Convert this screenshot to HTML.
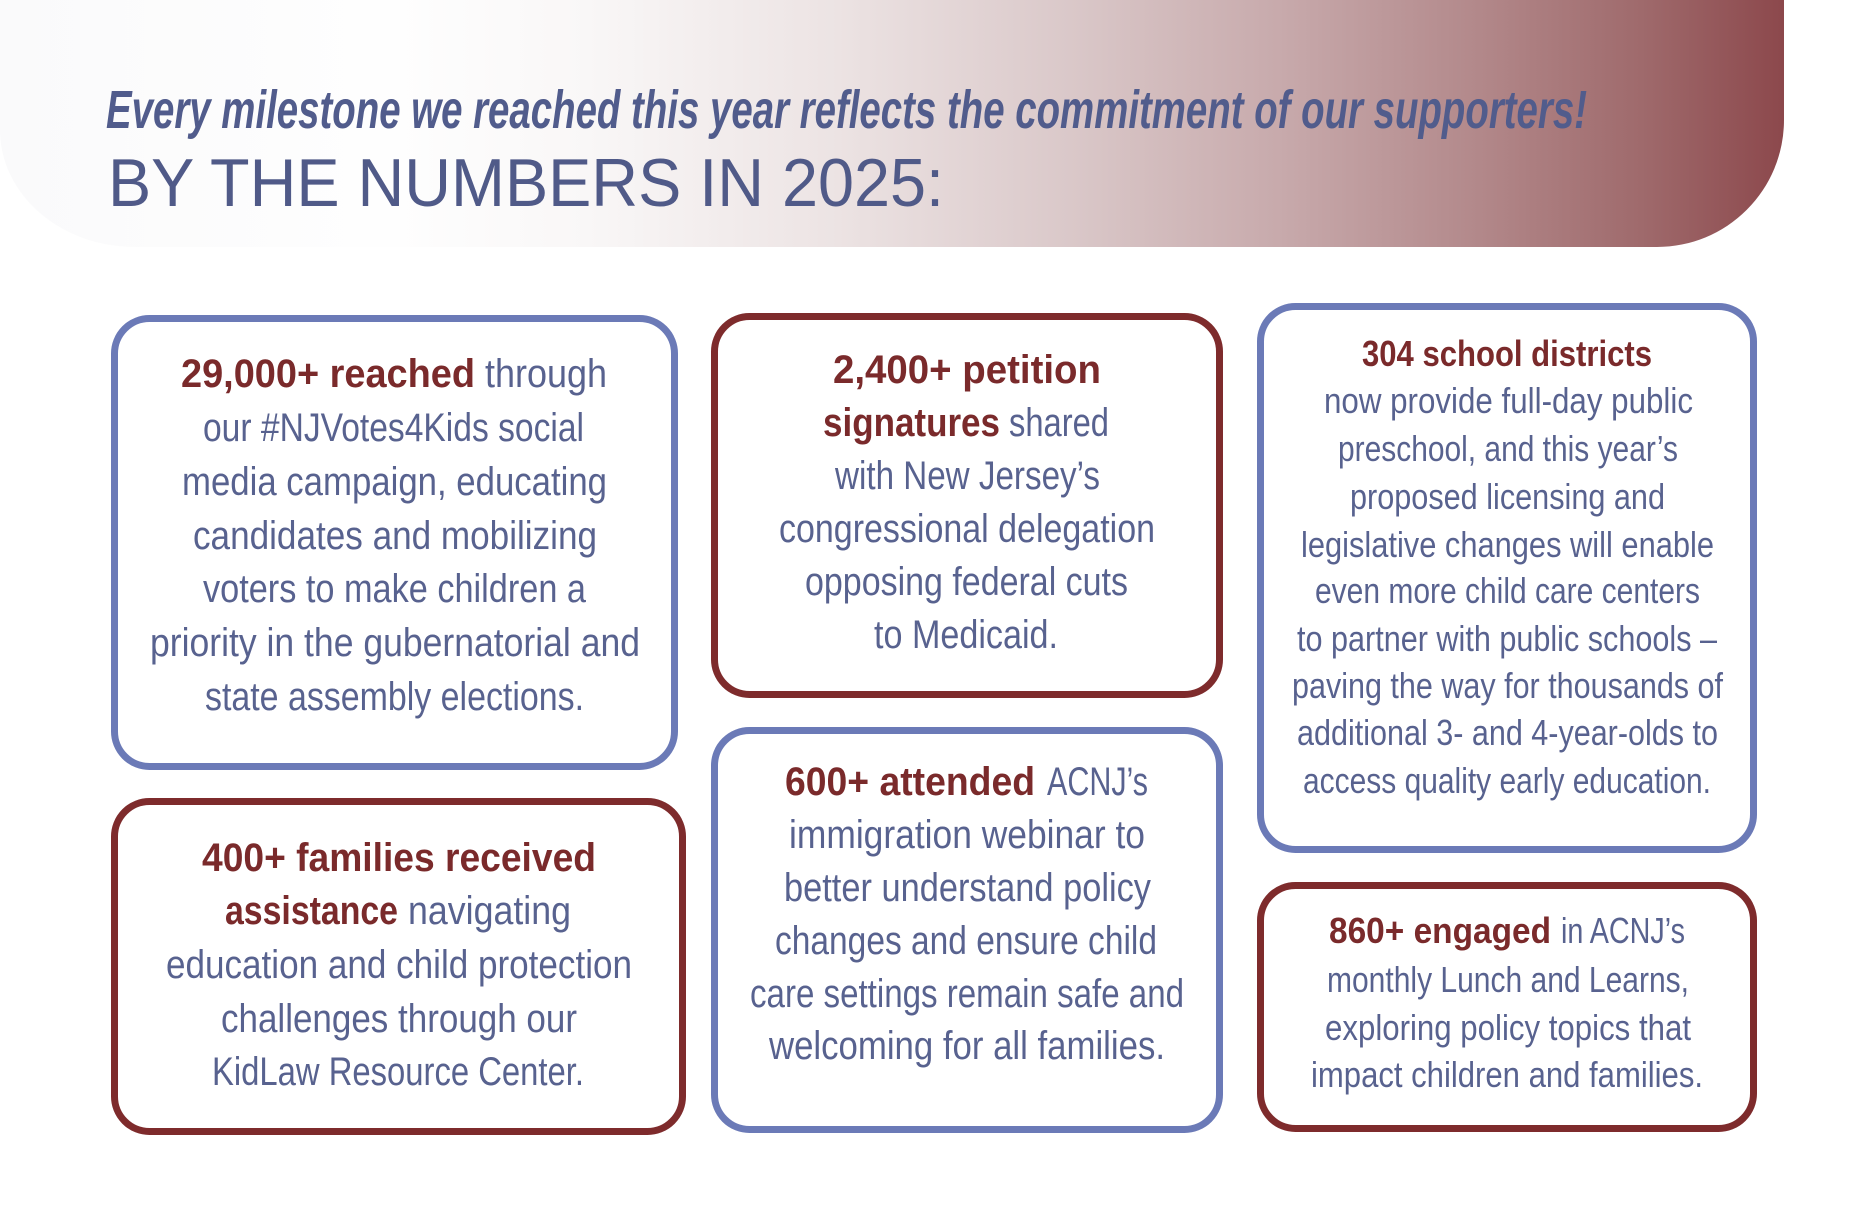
<!DOCTYPE html>
<html>
<head>
<meta charset="utf-8">
<style>
  html,body{margin:0;padding:0;background:#ffffff;}
  svg{display:block;}
  .b{font-family:"Liberation Sans",sans-serif;font-weight:bold;fill:#7a2a2b;}
  .r{font-family:"Liberation Sans",sans-serif;font-weight:normal;fill:#58628f;}
</style>
</head>
<body>
<svg width="1864" height="1232" viewBox="0 0 1864 1232" xmlns="http://www.w3.org/2000/svg">
  <defs>
    <linearGradient id="band" x1="0" y1="0" x2="1784" y2="0" gradientUnits="userSpaceOnUse">
      <stop offset="0" stop-color="#fafafb"/>
      <stop offset="0.22" stop-color="#fefefe"/>
      <stop offset="0.33" stop-color="#f9f7f7"/>
      <stop offset="0.47" stop-color="#ece3e3"/>
      <stop offset="0.60" stop-color="#dac8c9"/>
      <stop offset="0.72" stop-color="#c7a9ab"/>
      <stop offset="0.82" stop-color="#b48b8d"/>
      <stop offset="0.92" stop-color="#9f6a6c"/>
      <stop offset="1" stop-color="#8c484c"/>
    </linearGradient>
  </defs>

  <rect x="0" y="0" width="1864" height="1232" fill="#ffffff"/>

  <!-- header band -->
  <path d="M0,0 H1784 V120 A127,127 0 0 1 1657,247 H135 A135,117 0 0 1 0,130 Z" fill="url(#band)"/>

  <text x="106" y="128" textLength="1481" lengthAdjust="spacingAndGlyphs"
        style="font-family:'Liberation Sans',sans-serif;font-weight:bold;font-style:italic;font-size:54px;fill:#515c8c;">Every milestone we reached this year reflects the commitment of our supporters!</text>
  <text x="108" y="206" textLength="836" lengthAdjust="spacingAndGlyphs"
        style="font-family:'Liberation Sans',sans-serif;font-weight:normal;font-size:68px;fill:#505a88;">BY THE NUMBERS IN 2025:</text>

  <!-- boxes -->
  <g fill="#ffffff" stroke-width="7">
    <rect x="114.5" y="318.5" width="560" height="448" rx="35" ry="35" stroke="#6b7ab7"/>
    <rect x="714.5" y="316.5" width="505" height="378" rx="35" ry="35" stroke="#7e2b2c"/>
    <rect x="714.5" y="730.5" width="505" height="399" rx="35" ry="35" stroke="#6b7ab7"/>
    <rect x="114.5" y="801.5" width="568" height="330" rx="35" ry="35" stroke="#7e2b2c"/>
    <rect x="1260.5" y="306.5" width="493" height="543" rx="35" ry="35" stroke="#6b7ab7"/>
    <rect x="1260.5" y="885.5" width="493" height="243" rx="35" ry="35" stroke="#7e2b2c"/>
  </g>

  <!-- Box 1 -->
  <g font-size="40">
    <text class="b" x="181" y="387" textLength="294" lengthAdjust="spacingAndGlyphs">29,000+ reached</text>
    <text class="r" x="485" y="387" textLength="122" lengthAdjust="spacingAndGlyphs">through</text>
    <text class="r" x="203" y="441" textLength="381" lengthAdjust="spacingAndGlyphs">our #NJVotes4Kids social</text>
    <text class="r" x="182" y="495" textLength="425" lengthAdjust="spacingAndGlyphs">media campaign, educating</text>
    <text class="r" x="193" y="549" textLength="404" lengthAdjust="spacingAndGlyphs">candidates and mobilizing</text>
    <text class="r" x="203" y="602" textLength="383" lengthAdjust="spacingAndGlyphs">voters to make children a</text>
    <text class="r" x="150" y="656" textLength="490" lengthAdjust="spacingAndGlyphs">priority in the gubernatorial and</text>
    <text class="r" x="205" y="710" textLength="379" lengthAdjust="spacingAndGlyphs">state assembly elections.</text>
  </g>

  <!-- Box 2 -->
  <g font-size="40">
    <text class="b" x="833" y="383" textLength="268" lengthAdjust="spacingAndGlyphs">2,400+ petition</text>
    <text class="b" x="823" y="436" textLength="177" lengthAdjust="spacingAndGlyphs">signatures</text>
    <text class="r" x="1009" y="436" textLength="100" lengthAdjust="spacingAndGlyphs">shared</text>
    <text class="r" x="835" y="489" textLength="265" lengthAdjust="spacingAndGlyphs">with New Jersey’s</text>
    <text class="r" x="779" y="542" textLength="376" lengthAdjust="spacingAndGlyphs">congressional delegation</text>
    <text class="r" x="805" y="595" textLength="323" lengthAdjust="spacingAndGlyphs">opposing federal cuts</text>
    <text class="r" x="874" y="648" textLength="184" lengthAdjust="spacingAndGlyphs">to Medicaid.</text>
  </g>

  <!-- Box 3 -->
  <g font-size="40">
    <text class="b" x="785" y="795" textLength="250" lengthAdjust="spacingAndGlyphs">600+ attended</text>
    <text class="r" x="1047" y="795" textLength="101" lengthAdjust="spacingAndGlyphs">ACNJ’s</text>
    <text class="r" x="789" y="848" textLength="356" lengthAdjust="spacingAndGlyphs">immigration webinar to</text>
    <text class="r" x="784" y="901" textLength="367" lengthAdjust="spacingAndGlyphs">better understand policy</text>
    <text class="r" x="775" y="954" textLength="382" lengthAdjust="spacingAndGlyphs">changes and ensure child</text>
    <text class="r" x="750" y="1007" textLength="434" lengthAdjust="spacingAndGlyphs">care settings remain safe and</text>
    <text class="r" x="769" y="1059" textLength="396" lengthAdjust="spacingAndGlyphs">welcoming for all families.</text>
  </g>

  <!-- Box 4 -->
  <g font-size="40">
    <text class="b" x="202" y="871" textLength="394" lengthAdjust="spacingAndGlyphs">400+ families received</text>
    <text class="b" x="225" y="924" textLength="173" lengthAdjust="spacingAndGlyphs">assistance</text>
    <text class="r" x="408" y="924" textLength="163" lengthAdjust="spacingAndGlyphs">navigating</text>
    <text class="r" x="166" y="978" textLength="466" lengthAdjust="spacingAndGlyphs">education and child protection</text>
    <text class="r" x="221" y="1032" textLength="356" lengthAdjust="spacingAndGlyphs">challenges through our</text>
    <text class="r" x="212" y="1085" textLength="372" lengthAdjust="spacingAndGlyphs">KidLaw Resource Center.</text>
  </g>

  <!-- Box 5 -->
  <g font-size="36">
    <text class="b" x="1362" y="366" textLength="290" lengthAdjust="spacingAndGlyphs">304 school districts</text>
    <text class="r" x="1324" y="413" textLength="369" lengthAdjust="spacingAndGlyphs">now provide full-day public</text>
    <text class="r" x="1338" y="461" textLength="340" lengthAdjust="spacingAndGlyphs">preschool, and this year’s</text>
    <text class="r" x="1350" y="509" textLength="315" lengthAdjust="spacingAndGlyphs">proposed licensing and</text>
    <text class="r" x="1301" y="557" textLength="413" lengthAdjust="spacingAndGlyphs">legislative changes will enable</text>
    <text class="r" x="1315" y="603" textLength="385" lengthAdjust="spacingAndGlyphs">even more child care centers</text>
    <text class="r" x="1297" y="651" textLength="420" lengthAdjust="spacingAndGlyphs">to partner with public schools –</text>
    <text class="r" x="1292" y="698" textLength="431" lengthAdjust="spacingAndGlyphs">paving the way for thousands of</text>
    <text class="r" x="1297" y="745" textLength="421" lengthAdjust="spacingAndGlyphs">additional 3- and 4-year-olds to</text>
    <text class="r" x="1303" y="793" textLength="408" lengthAdjust="spacingAndGlyphs">access quality early education.</text>
  </g>

  <!-- Box 6 -->
  <g font-size="36">
    <text class="b" x="1329" y="943" textLength="222" lengthAdjust="spacingAndGlyphs">860+ engaged</text>
    <text class="r" x="1561" y="943" textLength="124" lengthAdjust="spacingAndGlyphs">in ACNJ’s</text>
    <text class="r" x="1327" y="992" textLength="362" lengthAdjust="spacingAndGlyphs">monthly Lunch and Learns,</text>
    <text class="r" x="1325" y="1040" textLength="366" lengthAdjust="spacingAndGlyphs">exploring policy topics that</text>
    <text class="r" x="1311" y="1087" textLength="392" lengthAdjust="spacingAndGlyphs">impact children and families.</text>
  </g>
</svg>
</body>
</html>
